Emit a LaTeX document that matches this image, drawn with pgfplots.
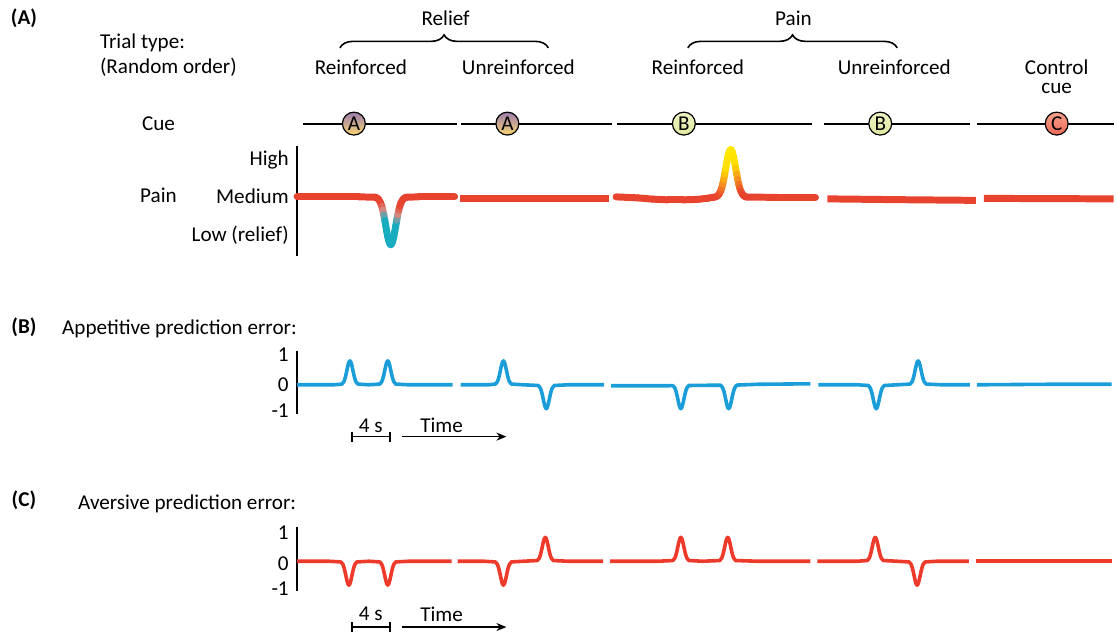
\documentclass[border=0pt]{standalone}
\usepackage{pgfplots}
\pgfplotsset{compat=1.18}
\usepackage{fontspec}
\setmainfont{Carlito}
\usetikzlibrary{decorations.pathreplacing,arrows.meta}
\definecolor{painred}{RGB}{232,67,47}
\definecolor{apblue}{RGB}{26,157,217}
\definecolor{avred}{RGB}{238,58,42}
\pgfplotsset{
  colormap={relief}{rgb255(0cm)=(232,67,47) rgb255(55cm)=(232,67,47) rgb255(64cm)=(210,145,140) rgb255(72cm)=(25,172,192) rgb255(95cm)=(25,172,192)},
  colormap={painpk}{rgb255(0cm)=(255,232,0) rgb255(18cm)=(255,222,0) rgb255(32cm)=(245,145,30) rgb255(45cm)=(232,67,47) rgb255(95cm)=(232,67,47)}
}
\begin{document}
\fontsize{10.6}{12.5}\selectfont
\begin{tikzpicture}
\begin{axis}[scale only axis, width=558.5pt, height=317.5pt,
  xmin=0, xmax=1117, ymin=0, ymax=635, y dir=reverse, hide axis, clip=false,
  point meta min=150, point meta max=245]
\path (axis cs:0,0) (axis cs:1117,635);
% ---------- labels ----------
\node[font=\bfseries] at (axis cs:24,18) {(A)};
\node[font=\bfseries] at (axis cs:24,328) {(B)};
\node[font=\bfseries] at (axis cs:24,502) {(C)};
\node[anchor=west,inner sep=0pt] at (axis cs:100,43) {Trial type:};
\node[anchor=west,inner sep=0pt] at (axis cs:100,67) {(Random order)};
\node at (axis cs:447,18) {Relief};
\node at (axis cs:796,18) {Pain};
\draw[decorate, decoration={brace, amplitude=6.5pt}, line width=0.8pt] (axis cs:341,48) -- (axis cs:550,48);
\draw[decorate, decoration={brace, amplitude=6.5pt}, line width=0.8pt] (axis cs:690,48) -- (axis cs:900,48);
\node at (axis cs:362,67) {Reinforced};
\node at (axis cs:520,67) {Unreinforced};
\node at (axis cs:700,67) {Reinforced};
\node at (axis cs:897,67) {Unreinforced};
\node at (axis cs:1060,67) {Control};
\node at (axis cs:1060,89) {cue};
\node at (axis cs:159,124) {Cue};
\node at (axis cs:159,196) {Pain};
\node[anchor=east,inner sep=0pt] at (axis cs:290,160) {High};
\node[anchor=east,inner sep=0pt] at (axis cs:290,197) {Medium};
\node[anchor=east,inner sep=0pt] at (axis cs:290,236) {Low (relief)};
\node[anchor=west,inner sep=0pt] at (axis cs:62,330) {Appetitive prediction error:};
\node[anchor=west,inner sep=0pt] at (axis cs:78,505) {Aversive prediction error:};
\node[anchor=east,inner sep=0pt] at (axis cs:290,356) {1};
\node[anchor=east,inner sep=0pt] at (axis cs:290,386) {0};
\node[anchor=east,inner sep=0pt] at (axis cs:290,412) {-1};
\node[anchor=east,inner sep=0pt] at (axis cs:290,534) {1};
\node[anchor=east,inner sep=0pt] at (axis cs:290,565) {0};
\node[anchor=east,inner sep=0pt] at (axis cs:290,591) {-1};
% scale bars
\node at (axis cs:372,427) {4 s};
\node at (axis cs:443,427) {Time};
\draw[line width=0.8pt] (axis cs:353,438) -- (axis cs:391,438);
\draw[line width=0.8pt] (axis cs:353,433) -- (axis cs:353,443);
\draw[line width=0.8pt] (axis cs:391,433) -- (axis cs:391,443);
\draw[line width=0.8pt,-{Stealth[length=5pt,width=4pt]}] (axis cs:403,438) -- (axis cs:508,438);
\node at (axis cs:372,616) {4 s};
\node at (axis cs:443,616) {Time};
\draw[line width=0.8pt] (axis cs:353,629) -- (axis cs:391,629);
\draw[line width=0.8pt] (axis cs:353,624) -- (axis cs:353,634);
\draw[line width=0.8pt] (axis cs:391,624) -- (axis cs:391,634);
\draw[line width=0.8pt,-{Stealth[length=5pt,width=4pt]}] (axis cs:403,629) -- (axis cs:508,629);
% ---------- axis bars ----------
\addplot[black, line width=1.25pt] coordinates {(298,146) (298,257)};
\addplot[black, line width=1.25pt] coordinates {(298,352) (298,415)};
\addplot[black, line width=1.25pt] coordinates {(298,529) (298,593)};
% ---------- cue lines ----------
\addplot[black, line width=1pt] coordinates {(304,124) (458,124)};
\addplot[black, line width=1pt] coordinates {(462,124) (614,124)};
\addplot[black, line width=1pt] coordinates {(619,124) (815,124)};
\addplot[black, line width=1pt] coordinates {(827,124) (973,124)};
\addplot[black, line width=1pt] coordinates {(980,124) (1117,124)};
\node[circle, draw, line width=0.6pt, minimum size=11.5pt, inner sep=0pt, top color={rgb,255:red,155;green,125;blue,175}, bottom color={rgb,255:red,248;green,212;blue,110}] at (axis cs:355,124) {A};
\node[circle, draw, line width=0.6pt, minimum size=11.5pt, inner sep=0pt, top color={rgb,255:red,155;green,125;blue,175}, bottom color={rgb,255:red,248;green,212;blue,110}] at (axis cs:509,124) {A};
\node[circle, draw, line width=0.6pt, minimum size=11.5pt, inner sep=0pt, top color={rgb,255:red,238;green,242;blue,195}, bottom color={rgb,255:red,225;green,232;blue,160}] at (axis cs:686,124) {B};
\node[circle, draw, line width=0.6pt, minimum size=11.5pt, inner sep=0pt, top color={rgb,255:red,238;green,242;blue,195}, bottom color={rgb,255:red,225;green,232;blue,160}] at (axis cs:883,124) {B};
\node[circle, draw, line width=0.6pt, minimum size=11.5pt, inner sep=0pt, top color={rgb,255:red,246;green,160;blue,140}, bottom color={rgb,255:red,236;green,105;blue,85}] at (axis cs:1060,124) {C};
% ---------- pain traces ----------
\addplot[mesh, colormap name=relief, point meta=y, line width=3.5pt, line cap=round] coordinates {
(298,197.5) (340,197.5) (360,197.5) (376,197.8) (378,198.4) (380,200.2) (382,204) (383,207) (384,210.8) (385,215.5) (386,220.9) (387,226.6) (388,232.4) (389,237.6) (390,241.8) (391,244.5) (392,245.5) (393,244.5) (394,241.8) (395,237.6) (396,232.4) (397,226.6) (398,220.9) (399,215.5) (400,210.8) (401,207) (402,204) (404,200.2) (406,198.4) (408,197.8) (420,197.5) (440,197.5) (456,197.5)};
\addplot[painred, line width=3.5pt] coordinates {(461,199) (611,199)};
\addplot[mesh, colormap name=painpk, point meta=y, line width=3.5pt, line cap=round] coordinates {
(618,197.5) (640,198.5) (655,199.8) (670,200.5) (685,200.5) (700,200) (710,198.8) (717,197.7) (719,197.1) (721,195.3) (723,191.5) (724,188.5) (725,184.7) (726,180) (727,174.6) (728,168.9) (729,163.1) (730,157.9) (731,153.7) (732,151) (733,150) (734,151) (735,153.7) (736,157.9) (737,163.1) (738,168.9) (739,174.6) (740,180) (741,184.7) (742,188.5) (743,191.5) (745,195.3) (747,197.1) (749,197.7) (780,198) (818,198)};
\addplot[painred, line width=3.5pt] coordinates {(830,199.5) (900,200.3) (979,201)};
\addplot[painred, line width=3.5pt] coordinates {(987,199) (1117,199.5)};
% ---------- appetitive PE ----------
\addplot[apblue, line width=1.8pt, line join=round] coordinates {
(298,386) (335,386) (343,385.3) (345,382.8) (346,380) (347,376.1) (348,371.4) (349,366.8) (350,363.3) (351,362) (352,363.3) (353,366.8) (354,371.4) (355,376.1) (356,380) (357,382.8) (359,385.3) (370,386)
(381,385.3) (383,382.8) (384,380) (385,376.1) (386,371.4) (387,366.8) (388,363.3) (389,362) (390,363.3) (391,366.8) (392,371.4) (393,376.1) (394,380) (395,382.8) (397,385.3) (410,386) (454,386)};
\addplot[apblue, line width=1.8pt, line join=round] coordinates {
(462,386) (490,386) (497,385.3) (499,382.8) (500,380) (501,376.1) (502,371.4) (503,366.8) (504,363.3) (505,362) (506,363.3) (507,366.8) (508,371.4) (509,376.1) (510,380) (511,382.8) (513,385.3) (525,386)
(540,386.7) (542,389.2) (543,392) (544,395.9) (545,400.6) (546,405.2) (547,408.7) (548,410) (549,408.7) (550,405.2) (551,400.6) (552,395.9) (553,392) (554,389.2) (556,386.7) (570,386) (606,386)};
\addplot[apblue, line width=1.8pt, line join=round] coordinates {
(613,387) (660,387) (675,386.9) (677,389.2) (678,392) (679,395.9) (680,400.6) (681,405.2) (682,408.7) (683,410) (684,408.7) (685,405.2) (686,400.6) (687,395.9) (688,392) (689,389.2) (691,386.7) (710,386.5)
(723,386.5) (725,389.2) (726,392) (727,395.9) (728,400.6) (729,405.2) (730,408.7) (731,410) (732,408.7) (733,405.2) (734,400.6) (735,395.9) (736,392) (737,389.2) (739,386.3) (760,385.5) (813,385)};
\addplot[apblue, line width=1.8pt, line join=round] coordinates {
(821,386) (860,386) (871,386.7) (873,389.2) (874,392) (875,395.9) (876,400.6) (877,405.2) (878,408.7) (879,410) (880,408.7) (881,405.2) (882,400.6) (883,395.9) (884,392) (885,389.2) (887,386.7) (900,386)
(913,385.3) (915,382.8) (916,380) (917,376.1) (918,371.4) (919,366.8) (920,363.3) (921,362) (922,363.3) (923,366.8) (924,371.4) (925,376.1) (926,380) (927,382.8) (929,385.3) (945,386) (973,386)};
\addplot[apblue, line width=1.8pt] coordinates {(980,386) (1050,385.5) (1115,385.5)};
% ---------- aversive PE ----------
\addplot[avred, line width=1.8pt, line join=round] coordinates {
(298,563) (330,563) (342,563.7) (344,566.2) (345,569) (346,572.9) (347,577.6) (348,582.2) (349,585.7) (350,587) (351,585.7) (352,582.2) (353,577.6) (354,572.9) (355,569) (356,566.2) (358,563.7) (370,563)
(381,563.7) (383,566.2) (384,569) (385,572.9) (386,577.6) (387,582.2) (388,585.7) (389,587) (390,585.7) (391,582.2) (392,577.6) (393,572.9) (394,569) (395,566.2) (397,563.7) (410,563) (453,563)};
\addplot[avred, line width=1.8pt, line join=round] coordinates {
(459,563) (485,563) (497,563.7) (499,566.2) (500,569) (501,572.9) (502,577.6) (503,582.2) (504,585.7) (505,587) (506,585.7) (507,582.2) (508,577.6) (509,572.9) (510,569) (511,566.2) (513,563.7) (525,563)
(539,562.3) (541,559.8) (542,557) (543,553.1) (544,548.4) (545,543.8) (546,540.3) (547,539) (548,540.3) (549,543.8) (550,548.4) (551,553.1) (552,557) (553,559.8) (555,562.3) (570,563) (605,563)};
\addplot[avred, line width=1.8pt, line join=round] coordinates {
(612,563) (660,563) (675,562.3) (677,559.8) (678,557) (679,553.1) (680,548.4) (681,543.8) (682,540.3) (683,539) (684,540.3) (685,543.8) (686,548.4) (687,553.1) (688,557) (689,559.8) (691,562.3) (705,563)
(722,562.3) (724,559.8) (725,557) (726,553.1) (727,548.4) (728,543.8) (729,540.3) (730,539) (731,540.3) (732,543.8) (733,548.4) (734,553.1) (735,557) (736,559.8) (738,562.3) (760,563) (813,563)};
\addplot[avred, line width=1.8pt, line join=round] coordinates {
(820,563) (860,563) (870,562.3) (872,559.8) (873,557) (874,553.1) (875,548.4) (876,543.8) (877,540.3) (878,539) (879,540.3) (880,543.8) (881,548.4) (882,553.1) (883,557) (884,559.8) (886,562.3) (900,563)
(912,563.7) (914,566.2) (915,569) (916,572.9) (917,577.6) (918,582.2) (919,585.7) (920,587) (921,585.7) (922,582.2) (923,577.6) (924,572.9) (925,569) (926,566.2) (928,563.7) (940,563) (972,563)};
\addplot[avred, line width=1.8pt] coordinates {(979,563) (1050,563) (1115,563)};
\end{axis}
\end{tikzpicture}
\end{document}
